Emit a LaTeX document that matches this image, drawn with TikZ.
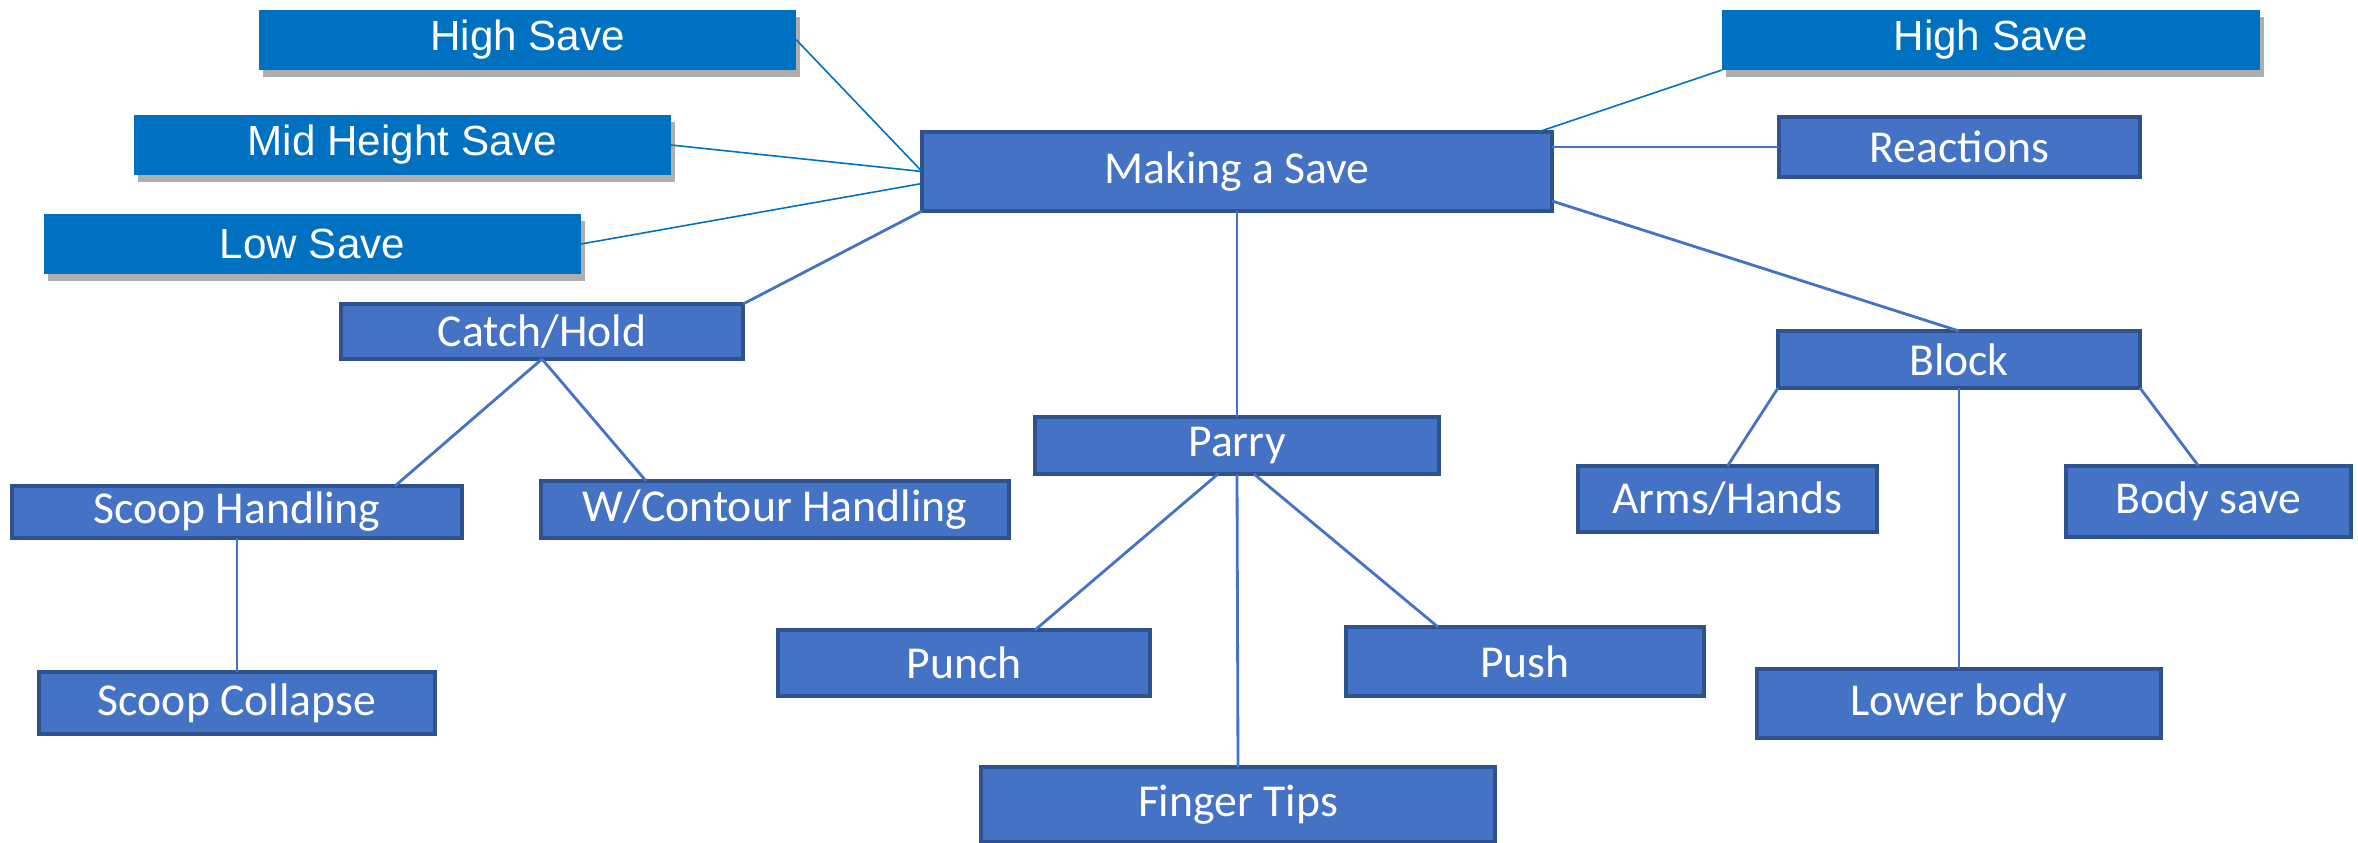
\documentclass[tikz,border=0pt]{standalone}
\usepackage{fontspec}
\setmainfont{Carlito}
\newfontfamily\arialfont{Liberation Sans}
\usetikzlibrary{shadows}

\definecolor{saveblue}{HTML}{0070C0}
\definecolor{boxblue}{HTML}{4472C4}
\definecolor{boxedge}{HTML}{2F528F}

\tikzset{
	savebox/.style={fill=saveblue, text=white, inner sep=0pt, outer sep=0pt,
		font=\arialfont\fontsize{12}{14}\selectfont, minimum width=5.37cm, minimum height=0.6cm,
		drop shadow={shadow xshift=0.4mm, shadow yshift=-0.7mm, opacity=0.45, fill=black!70}},
	topicbox/.style={fill=boxblue, draw=boxedge, line width=0.9pt, text=white, inner sep=0pt,
		outer sep=0pt, font=\fontsize{13}{15}\selectfont},
	saveline/.style={draw=saveblue, line width=0.45pt},
	topicline/.style={draw=boxblue, line width=0.8pt}
}

\begin{document}
\begin{tikzpicture}
		\useasboundingbox (0,0) rectangle (23.58,-8.42);
		
		% saves
		\node[savebox] (hsl) at (5.275,-0.395) {High Save};
		\node[savebox] (mhs) at (4.025,-1.45) {Mid Height Save};
		\node[savebox] (ls) at (3.125,-2.44) {Low Save};
		\node[savebox, minimum width=5.38cm] (hsr) at (19.91,-0.40) {High Save};
		
		% main
		\node[topicbox, minimum width=6.3cm, minimum height=0.79cm] (mas) at (12.37,-1.715) {Making a Save};
		\node[topicbox, minimum width=3.61cm, minimum height=0.6cm] (react) at (19.595,-1.47) {Reactions};
		
		% catch
		\node[topicbox, minimum width=4.02cm, minimum height=0.55cm] (catch) at (5.42,-3.315) {Catch/Hold};
		\node[topicbox, minimum width=4.5cm, minimum height=0.52cm] (scoop) at (2.37,-5.12) {Scoop Handling};
		\node[topicbox, minimum width=4.68cm, minimum height=0.57cm] (contour) at (7.75,-5.095) {W/Contour Handling};
		\node[topicbox, minimum width=3.96cm, minimum height=0.62cm] (collapse) at (2.37,-7.03) {Scoop Collapse};
		
		% parry
		\node[topicbox, minimum width=4.04cm, minimum height=0.57cm] (parry) at (12.37,-4.455) {Parry};
		\node[topicbox, minimum width=3.72cm, minimum height=0.66cm] (punch) at (9.64,-6.63) {Punch};
		\node[topicbox, minimum width=3.58cm, minimum height=0.69cm] (push) at (15.25,-6.615) {Push};
		\node[topicbox, minimum width=5.14cm, minimum height=0.75cm] (finger) at (12.38,-8.045) {Finger Tips};
		
		% block
		\node[topicbox, minimum width=3.62cm, minimum height=0.57cm] (block) at (19.59,-3.595) {Block};
		\node[topicbox, minimum width=2.99cm, minimum height=0.66cm] (arms) at (17.275,-4.99) {Arms/Hands};
		\node[topicbox, minimum width=2.85cm, minimum height=0.71cm] (body) at (22.085,-5.015) {Body save};
		\node[topicbox, minimum width=4.04cm, minimum height=0.69cm] (lower) at (19.59,-7.035) {Lower body};
		
		% lines
		\draw[saveline] (hsl.east) -- (mas.west);
		\draw[saveline] (mhs.east) -- (mas.west);
		\draw[saveline] (ls.east) -- ([yshift=-1.2mm]mas.west);
		\draw[saveline] (hsr.south west) -- ([xshift=-1.4mm]mas.north east);
		
		\draw[topicline] (react.west) -- (mas.east |- react.west);
		\draw[topicline] ([yshift=1mm]mas.south east) -- (block.north);
		\draw[topicline] (mas.south west) -- (catch.north east);
		\draw[topicline] (mas.south) -- (parry.north);
		
		\draw[topicline] (catch.south) -- ([xshift=1.58cm]scoop.north);
		\draw[topicline] (catch.south) -- ([xshift=1.05cm]contour.north west);
		\draw[topicline] (scoop.south) -- (collapse.north);
		
		\draw[topicline] ([xshift=-1.9mm]parry.south) -- ([xshift=7.1mm]punch.north);
		\draw[topicline] ([xshift=1.7mm]parry.south) -- ([xshift=-8.7mm]push.north);
		\draw[topicline] (parry.south) -- (finger.north);
		
		\draw[topicline] (block.south west) -- (arms.north);
		\draw[topicline] (block.south) -- (lower.north);
		\draw[topicline] (block.south east) -- ([xshift=-1mm]body.north);
\end{tikzpicture}
\end{document}
